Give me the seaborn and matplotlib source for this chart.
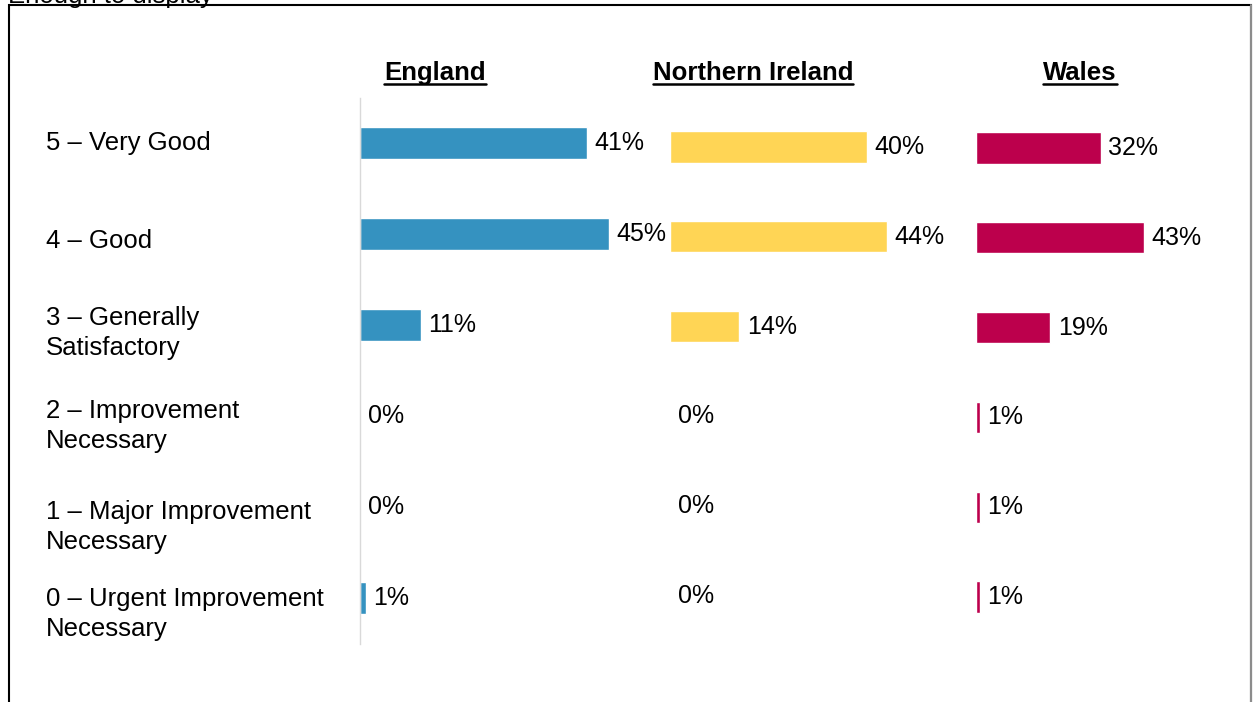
import matplotlib
matplotlib.use("Agg")
import matplotlib.pyplot as plt
from matplotlib.lines import Line2D
from matplotlib.patches import Rectangle
import seaborn as sns

# Données
categories = ["5 – Very Good", "4 – Good", "3 – Generally\nSatisfactory",
              "2 – Improvement\nNecessary", "1 – Major Improvement\nNecessary",
              "0 – Urgent Improvement\nNecessary"]
england = [41, 45, 11, 0, 0, 1]
northern_ireland = [40, 44, 14, 0, 0, 0]
wales = [32, 43, 19, 1, 1, 1]
countries = ["England", "Northern Ireland", "Wales"]

sns.set_theme(style="white")
plt.rcParams['font.family'] = ['Liberation Sans', 'DejaVu Sans']

W, H = 1253, 702
fig = plt.figure(figsize=(W / 100, H / 100), dpi=100)

def px_box(left, top, width, bottom):
    return [left / W, 1 - bottom / H, width / W, (bottom - top) / H]

# mise en page (pixels) : gauche, haut, largeur, bas
panels = [
    (england, "#3592c0", (360, 97.5, 276.5, 643.5), 435),
    (northern_ireland, "#ffd555", (670, 102, 246.5, 641), 753),
    (wales, "#bc004c", (976, 103, 195, 642), 1080),
]

title_texts = []
for i, (vals, col, box, title_x) in enumerate(panels):
    ax = fig.add_axes(px_box(*box))
    sns.barplot(x=vals, y=categories, orient="h", color=col, saturation=1,
                width=0.35, ax=ax)
    ax.set_xlim(0, 50)
    ax.set_ylim(5.5, -0.5)
    ax.set_xticks([])
    ax.set_yticks([])
    ax.set_xlabel("")
    ax.set_ylabel("")
    for s in ["top", "right", "bottom", "left"]:
        ax.spines[s].set_visible(False)
    if i == 0:
        ax.spines["left"].set_visible(True)
        ax.spines["left"].set_color("#d9d9d9")
        ax.spines["left"].set_linewidth(1)
    ax.bar_label(ax.containers[0], labels=[f"{v}%" for v in vals],
                 padding=5.5, fontsize=18, color="black", clip_on=False)
    t = fig.text(title_x / W, 1 - 73 / H, countries[i], ha="center",
                 va="center", fontsize=18.5, fontweight="bold", color="black")
    title_texts.append(t)

# libellés des catégories
label_y = [143, 241, 333, 426, 527, 614]
for lab, y in zip(categories, label_y):
    fig.text(46 / W, 1 - y / H, lab, ha="left", va="center", fontsize=18.5,
             color="black", linespacing=1.3)

# texte coupé en haut (comme sur l'original)
fig.text(8 / W, 1 - 3 / H, "Enough to display", ha="left", va="baseline",
         fontsize=18.5, color="black")

# cadre
fig.add_artist(Rectangle((8.5 / W, -0.05), (1251 - 8.5) / W, 1.05 - 5 / H,
                         transform=fig.transFigure, fill=False,
                         edgecolor="black", linewidth=1.5))
fig.add_artist(Line2D([1251 / W, 1251 / W], [0, 1 - 5 / H],
                      transform=fig.transFigure, color="#8c8c8c", linewidth=1.5))

# soulignement des titres
fig.canvas.draw()
renderer = fig.canvas.get_renderer()
for t in title_texts:
    bb = t.get_window_extent(renderer)
    y = (bb.y0 + 1) / H
    fig.add_artist(Line2D([bb.x0 / W, bb.x1 / W], [y, y],
                          transform=fig.transFigure, color="black", linewidth=1.8))

fig.savefig("out.png", dpi=100)
